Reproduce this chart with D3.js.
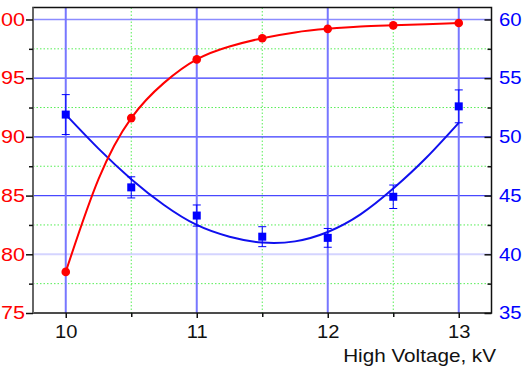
<!DOCTYPE html>
<html>
<head>
<meta charset="utf-8">
<script src="https://cdn.jsdelivr.net/npm/d3@7"></script>
<style>
  body { margin: 0; background: #fff; }
  svg { display: block; font-family: "Liberation Sans", Arial, sans-serif; }
</style>
</head>
<body>
<svg id="chart"></svg>
<script>
// measured points
const voltage = [10, 10.5, 11, 11.5, 12, 12.5, 13];
const redValues = [78.5, 91.6, 96.6, 98.4, 99.2, 99.5, 99.7];      // left axis
const blueValues = [51.9, 45.7, 43.3, 41.5, 41.4, 44.9, 52.6];     // right axis
const blueErrors = [1.7, 0.9, 0.9, 0.85, 0.8, 1.0, 1.4];

// fitted curves
const fitX = [10, 10.25, 10.5, 10.75, 11, 11.25, 11.5, 11.75, 12, 12.25, 12.5, 12.75, 13];
const redFit = [78.5, 86.4, 91.6, 94.6, 96.6, 97.7, 98.4, 98.9, 99.2, 99.4, 99.5, 99.6, 99.7];
const blueFit = [51.9, 49.0, 46.4, 44.2, 42.5, 41.5, 41.0, 41.1, 41.9, 43.4, 45.6, 48.2, 51.2];

// ticks
const xMajor = [10, 11, 12, 13];
const xMinor = [10.5, 11.5, 12.5];
const leftMajor = [75, 80, 85, 90, 95, 100];
const leftMinor = [77.5, 82.5, 87.5, 92.5, 97.5];
const rightMajor = [35, 40, 45, 50, 55, 60];
const rightMinor = [37.5, 42.5, 47.5, 52.5, 57.5];

const width = 529, height = 374;
const margin = {top: 7.5, right: 37.5, bottom: 61, left: 33};

const svg = d3.select("#chart")
    .attr("width", width)
    .attr("height", height);

const x = d3.scaleLinear().domain([9.75, 13.25]).range([margin.left, width - margin.right]);
const yL = d3.scaleLinear().domain([75, 101.02]).range([height - margin.bottom, margin.top]);
const yR = d3.scaleLinear().domain([35, 61.02]).range([height - margin.bottom, margin.top]);

const pTop = margin.top, pBottom = height - margin.bottom;
const pLeft = margin.left, pRight = width - margin.right;

// minor grid (green dotted)
svg.append("g").selectAll("line")
    .data(xMinor)
    .join("line")
    .attr("x1", d => x(d)).attr("x2", d => x(d))
    .attr("y1", pTop).attr("y2", pBottom)
    .attr("stroke", "#55ee55")
    .attr("stroke-width", 1)
    .attr("stroke-dasharray", "1.5,2");

svg.append("g").selectAll("line")
    .data(leftMinor)
    .join("line")
    .attr("x1", pLeft).attr("x2", pRight)
    .attr("y1", d => yL(d)).attr("y2", d => yL(d))
    .attr("stroke", "#55ee55")
    .attr("stroke-width", 1)
    .attr("stroke-dasharray", "1.5,2");

// major grid (blue)
const hGridColor = {100: "#8c8cff", 95: "#3a3aff", 90: "#3a3aff", 85: "#4848ff", 80: "#d4d4ff"};
svg.append("g").selectAll("line")
    .data(leftMajor.filter(d => d > 75))
    .join("line")
    .attr("x1", pLeft).attr("x2", pRight)
    .attr("y1", d => yL(d)).attr("y2", d => yL(d))
    .attr("stroke", d => hGridColor[d])
    .attr("stroke-width", d => d === 80 ? 2 : 1.3);

svg.append("g").selectAll("line")
    .data(xMajor)
    .join("line")
    .attr("x1", d => x(d)).attr("x2", d => x(d))
    .attr("y1", pTop).attr("y2", pBottom)
    .attr("stroke", "#7777ff")
    .attr("stroke-width", 2);

// blue fit + error bars + squares
svg.append("path")
    .datum(fitX.map((v, i) => [v, blueFit[i]]))
    .attr("fill", "none")
    .attr("stroke", "#1010ee")
    .attr("stroke-width", 2)
    .attr("d", d3.line().x(d => x(d[0])).y(d => yR(d[1])).curve(d3.curveNatural));

const err = svg.append("g").attr("stroke", "#0000ff").attr("stroke-width", 1);
voltage.forEach((v, i) => {
    const cx = x(v), hi = yR(blueValues[i] + blueErrors[i]), lo = yR(blueValues[i] - blueErrors[i]);
    err.append("line").attr("x1", cx).attr("x2", cx).attr("y1", hi).attr("y2", lo);
    err.append("line").attr("x1", cx - 4).attr("x2", cx + 4).attr("y1", hi).attr("y2", hi);
    err.append("line").attr("x1", cx - 4).attr("x2", cx + 4).attr("y1", lo).attr("y2", lo);
});

svg.append("g").selectAll("rect")
    .data(voltage)
    .join("rect")
    .attr("x", d => x(d) - 4)
    .attr("y", (d, i) => yR(blueValues[i]) - 4)
    .attr("width", 8).attr("height", 8)
    .attr("fill", "#0000ff");

// red fit + dots
svg.append("path")
    .datum(fitX.map((v, i) => [v, redFit[i]]))
    .attr("fill", "none")
    .attr("stroke", "#ff0000")
    .attr("stroke-width", 2)
    .attr("d", d3.line().x(d => x(d[0])).y(d => yL(d[1])).curve(d3.curveNatural));

svg.append("g").selectAll("circle")
    .data(voltage)
    .join("circle")
    .attr("cx", d => x(d))
    .attr("cy", (d, i) => yL(redValues[i]))
    .attr("r", 4.3)
    .attr("fill", "#ff0000");

// frame
svg.append("rect")
    .attr("x", pLeft).attr("y", pTop)
    .attr("width", pRight - pLeft).attr("height", pBottom - pTop)
    .attr("fill", "none")
    .attr("stroke", "#111")
    .attr("stroke-width", 1.5);
svg.append("line")
    .attr("x1", pLeft).attr("x2", pLeft).attr("y1", pTop).attr("y2", pBottom)
    .attr("stroke", "#666").attr("stroke-width", 2);

// axes -- the labels in the picture are a bit wider than the font, so stretch them
const fmt = d3.format("d");
const gLeft = svg.append("g").attr("transform", `translate(${pLeft},0)`)
    .call(d3.axisLeft(yL).tickValues(leftMajor).tickSize(7).tickPadding(0).tickFormat(fmt));
svg.append("g").attr("transform", `translate(${pLeft},0)`)
    .call(d3.axisLeft(yL).tickValues(leftMinor).tickSize(4).tickFormat(""));

const gRight = svg.append("g").attr("transform", `translate(${pRight},0)`)
    .call(d3.axisRight(yR).tickValues(rightMajor).tickSize(-7).tickPadding(0).tickFormat(fmt));
svg.append("g").attr("transform", `translate(${pRight},0)`)
    .call(d3.axisRight(yR).tickValues(rightMinor).tickSize(-4).tickFormat(""));

const gBottom = svg.append("g").attr("transform", `translate(0,${pBottom})`)
    .call(d3.axisBottom(x).tickValues(xMajor).tickSize(5).tickPadding(7).tickFormat(fmt));
svg.append("g").attr("transform", `translate(0,${pBottom})`)
    .call(d3.axisBottom(x).tickValues(xMinor).tickSize(4).tickFormat(""));

svg.selectAll(".domain").remove();
svg.selectAll(".tick line").attr("stroke", "#111").attr("stroke-width", 1.5);
svg.selectAll(".tick text").attr("font-size", 18).attr("font-family", "Liberation Sans, Arial, sans-serif");
gLeft.selectAll(".tick text")
    .attr("fill", "#ff0000")
    .attr("x", -8 / 1.2)
    .attr("transform", "scale(1.2,1)");
gRight.selectAll(".tick text")
    .attr("fill", "#0000ff")
    .attr("x", 7.5 / 1.13)
    .attr("transform", "scale(1.13,1)");
gBottom.selectAll(".tick text")
    .attr("fill", "#111")
    .attr("transform", "scale(1.12,1)");

svg.append("g")
    .attr("transform", "translate(496,362) scale(1.15,1)")
    .append("text")
    .attr("text-anchor", "end")
    .attr("font-size", 18)
    .attr("fill", "#111")
    .text("High Voltage, kV");
</script>
</body>
</html>
